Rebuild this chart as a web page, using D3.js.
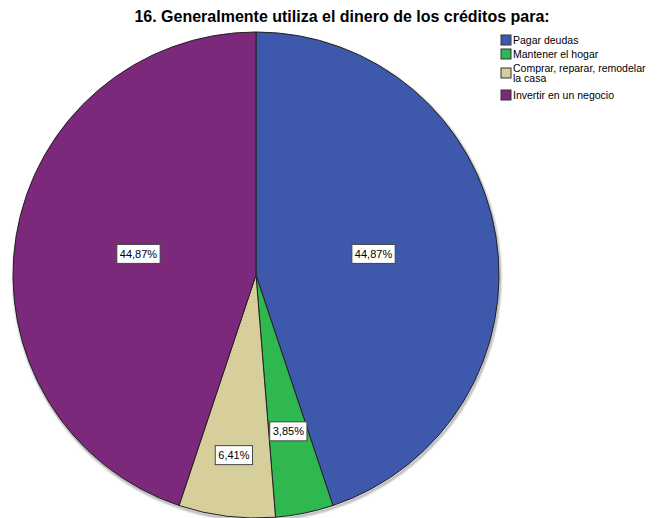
<!DOCTYPE html>
<html>
<head>
<meta charset="utf-8">
<script src="https://cdn.jsdelivr.net/npm/d3@7/dist/d3.min.js"></script>
<style>
  html, body { margin: 0; padding: 0; background: #ffffff; }
  svg { display: block; font-family: Arial, "Liberation Sans", sans-serif; }
</style>
</head>
<body>
<div id="chart"></div>
<script>
// Uso del dinero de los créditos (porcentajes)
const categories = ["Pagar deudas", "Mantener el hogar", "Comprar, reparar, remodelar la casa", "Invertir en un negocio"];
const legendLines = [["Pagar deudas"], ["Mantener el hogar"], ["Comprar, reparar, remodelar", "la casa"], ["Invertir en un negocio"]];
const values = [44.87, 3.85, 6.41, 44.87];
const colors = ["#3e58ab", "#2fb84f", "#d6cf9c", "#7c287b"];
const title = "16. Generalmente utiliza el dinero de los créditos para:";

const width = 659, height = 518;
const cx = 256, cy = 275, r = 243;

const svg = d3.select("#chart").append("svg")
  .attr("width", width).attr("height", height);

svg.append("text")
  .attr("x", 342).attr("y", 22)
  .attr("text-anchor", "middle")
  .attr("font-size", "16px").attr("font-weight", "bold")
  .attr("fill", "#000")
  .text(title);

const pie = d3.pie().sort(null).value(d => d);
const arcs = pie(values);
const arc = d3.arc().innerRadius(0).outerRadius(r);

const g = svg.append("g").attr("transform", `translate(${cx},${cy})`);

// soft shadow along the outer rim
const defs = svg.append("defs");
defs.append("filter").attr("id", "rim").attr("x", "-10%").attr("y", "-10%").attr("width", "120%").attr("height", "120%")
  .append("feGaussianBlur").attr("stdDeviation", 1.2);
g.append("circle").attr("cx", 1).attr("cy", 2).attr("r", r)
  .attr("fill", "none").attr("stroke", "#999").attr("stroke-width", 2)
  .attr("filter", "url(#rim)");

g.selectAll("path.slice").data(arcs).join("path")
  .attr("class", "slice")
  .attr("d", arc)
  .attr("fill", (d, i) => colors[i])
  .attr("stroke", "#222")
  .attr("stroke-width", 1);

// narrow slices get their labels pushed toward the rim
const labelFrac = d => {
  const span = d.endAngle - d.startAngle;
  if (span > 1) return 0.49;
  return span < 0.3 ? 0.665 : 0.755;
};
const fmt = v => d3.format(".2f")(v).replace(".", ",") + "%";

const labels = g.selectAll("g.lbl").data(arcs).join("g").attr("class", "lbl")
  .attr("transform", d => {
    const a = (d.startAngle + d.endAngle) / 2;
    const rr = r * labelFrac(d);
    return `translate(${rr * Math.sin(a)},${-rr * Math.cos(a) - 2})`;
  });
labels.each(function(d) {
  const sel = d3.select(this);
  const t = sel.append("text")
    .attr("text-anchor", "middle").attr("dy", "0.36em")
    .attr("font-size", "11px").attr("fill", "#000")
    .text(fmt(d.data));
  const w = t.node().getComputedTextLength() + 6;
  sel.insert("rect", "text")
    .attr("x", -w / 2).attr("y", -9.5).attr("width", w).attr("height", 19)
    .attr("fill", "#fff").attr("stroke", "#444").attr("stroke-width", 1);
});

// legend
const legend = svg.append("g").attr("transform", "translate(501,35)");
const rowY = [0, 14, 33, 55];
legendLines.forEach((lines, i) => {
  const row = legend.append("g").attr("transform", `translate(0,${rowY[i]})`);
  row.append("rect").attr("x", 0).attr("y", 0).attr("width", 10).attr("height", 10)
    .attr("fill", colors[i]).attr("stroke", "#333").attr("stroke-width", 1);
  lines.forEach((ln, j) => {
    row.append("text").attr("x", 12).attr("y", 9 + j * 10.5 - (lines.length > 1 ? 5.5 : 0))
      .attr("font-size", "10.5px").attr("fill", "#000").text(ln);
  });
});
</script>
</body>
</html>
